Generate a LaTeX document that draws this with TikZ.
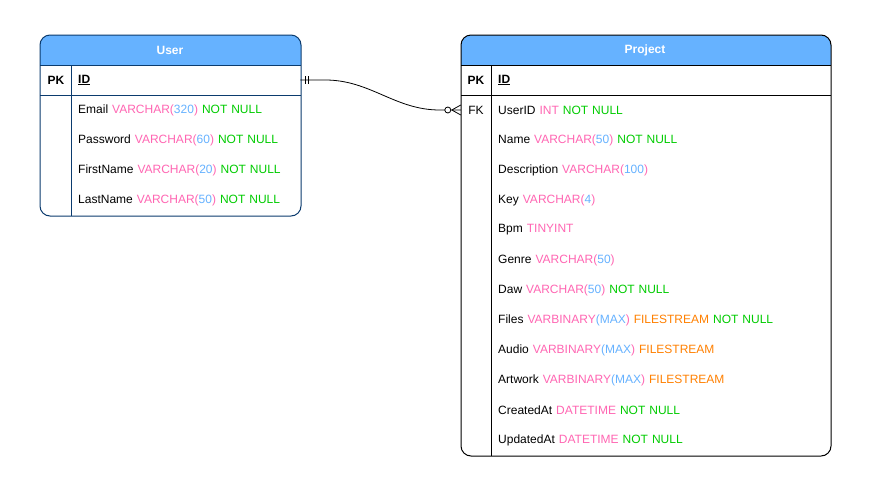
\documentclass[tikz,border=0pt]{standalone}
\usepackage{fontspec}
\setmainfont{Liberation Sans}
\usepackage{tikz}
\usetikzlibrary{positioning}

\definecolor{headblue}{HTML}{66B2FF}
\definecolor{userborder}{HTML}{0B3B6E}
\definecolor{typepink}{HTML}{FF66B3}
\definecolor{sizeblue}{HTML}{66B2FF}
\definecolor{nullgreen}{HTML}{00CC00}
\definecolor{streamorange}{HTML}{FF8000}

\newcommand{\tablefont}{\fontsize{12}{14}\selectfont}
\newcommand{\sqltype}[1]{\textcolor{typepink}{#1}}
\newcommand{\sqlsize}[1]{\textcolor{sizeblue}{#1}}
\newcommand{\notnull}{\textcolor{nullgreen}{NOT NULL}}
\newcommand{\filestream}{\textcolor{streamorange}{FILESTREAM}}
\newcommand{\varchar}[1]{\sqltype{VARCHAR(}\sqlsize{#1}\sqltype{)}}
\newcommand{\varbinmax}{\sqltype{VARBINARY}\sqlsize{(MAX}\sqltype{)}}

\tikzstyle{tablebox} = [rectangle, rounded corners=10pt, line width=1pt,
anchor=north west, inner sep=0pt]
\tikzstyle{headtext} = [text=white, font=\bfseries\tablefont]
\tikzstyle{keycell} = [minimum width=30pt, minimum height=30pt, inner sep=0pt,
font=\tablefont]
\tikzstyle{fieldcell} = [anchor=west, minimum height=30pt, inner ysep=0pt,
inner xsep=7pt, align=left, font=\tablefont]
\tikzstyle{rule} = [line width=1pt]
\tikzstyle{relation} = [line width=0.8pt]

\begin{document}
\begin{tikzpicture}[x=1pt, y=-1pt]
\useasboundingbox[fill=white] (0,0) rectangle (870,491);

% User table
\node(user)[tablebox, minimum width=260pt, minimum height=180pt] at (40,35) {};
\begin{scope}
\clip[rounded corners=10pt] (user.north west) rectangle (user.south east);
\fill[headblue] (user.north west) rectangle ([yshift=-30pt]user.north east);
\end{scope}
\draw[rule, userborder, rounded corners=10pt] (user.north west) rectangle (user.south east);
\draw[rule, userborder] ([yshift=-30pt]user.north west) -- ([yshift=-30pt]user.north east);
\draw[rule, userborder] ([yshift=-60pt]user.north west) -- ([yshift=-60pt]user.north east);
\draw[rule, userborder] ([xshift=31pt, yshift=-30pt]user.north west) -- ([xshift=31pt]user.south west);

\node(userHead)[headtext] at (170,50) {User};
\node(userPk)[keycell, font=\bfseries\tablefont] at (56,80) {PK};
\node(userId)[fieldcell, text width=215pt] at (71,80) {\textbf{\underline{ID}}};
\node(userEmail)[fieldcell, text width=215pt] at (71,110) {Email \varchar{320} \notnull};
\node(userPassword)[fieldcell, text width=215pt] at (71,140) {Password \varchar{60} \notnull};
\node(userFirst)[fieldcell, text width=215pt] at (71,170) {FirstName \varchar{20} \notnull};
\node(userLast)[fieldcell, text width=215pt] at (71,200) {LastName \varchar{50} \notnull};

% Project table
\node(project)[tablebox, minimum width=369pt, minimum height=420pt] at (461,35) {};
\begin{scope}
\clip[rounded corners=10pt] (project.north west) rectangle (project.south east);
\fill[headblue] (project.north west) rectangle ([yshift=-30pt]project.north east);
\end{scope}
\draw[rule, rounded corners=10pt] (project.north west) rectangle (project.south east);
\draw[rule] ([yshift=-30pt]project.north west) -- ([yshift=-30pt]project.north east);
\draw[rule] ([yshift=-60pt]project.north west) -- ([yshift=-60pt]project.north east);
\draw[rule] ([xshift=30pt, yshift=-30pt]project.north west) -- ([xshift=30pt]project.south west);

\node(projHead)[headtext] at (645,50) {Project};
\node(projPk)[keycell, font=\bfseries\tablefont] at (476,80) {PK};
\node(projId)[fieldcell, text width=325pt] at (491,80) {\textbf{\underline{ID}}};
\node(projFk)[keycell] at (476,110) {FK};
\node(projUser)[fieldcell, text width=325pt] at (491,110) {UserID \sqltype{INT} \notnull};
\node(projName)[fieldcell, text width=325pt] at (491,140) {Name \varchar{50} \notnull};
\node(projDesc)[fieldcell, text width=325pt] at (491,170) {Description \varchar{100}};
\node(projKey)[fieldcell, text width=325pt] at (491,200) {Key \varchar{4}};
\node(projBpm)[fieldcell, text width=325pt] at (491,230) {Bpm \sqltype{TINYINT}};
\node(projGenre)[fieldcell, text width=325pt] at (491,260) {Genre \varchar{50}};
\node(projDaw)[fieldcell, text width=325pt] at (491,290) {Daw \varchar{50} \notnull};
\node(projFiles)[fieldcell, text width=325pt] at (491,320) {Files \varbinmax{} \filestream{} \notnull};
\node(projAudio)[fieldcell, text width=325pt] at (491,350) {Audio \varbinmax{} \filestream};
\node(projArtwork)[fieldcell, text width=325pt] at (491,380) {Artwork \varbinmax{} \filestream};
\node(projCreated)[fieldcell, text width=325pt] at (491,410) {CreatedAt \sqltype{DATETIME} \notnull};
\node(projUpdated)[fieldcell, text width=325pt] at (491,440) {UpdatedAt \sqltype{DATETIME} \notnull};

% relation User 1 -- 0..n Project
\draw[relation] (userId.east) -- ++(25,0) .. controls +(45,0) and +(-45,0) ..
([xshift=-21pt]projFk.west) -- (projFk.west);
\draw[relation] ([xshift=5pt]userId.east) ++(0,-4) -- ++(0,8);
\draw[relation] ([xshift=8pt]userId.east) ++(0,-4) -- ++(0,8);
\draw[relation, fill=white] ([xshift=-13pt]projFk.west) circle (3pt);
\draw[relation] ([xshift=-9pt]projFk.west) -- ++(9,-5)
([xshift=-9pt]projFk.west) -- ++(9,5);

\end{tikzpicture}
\end{document}
